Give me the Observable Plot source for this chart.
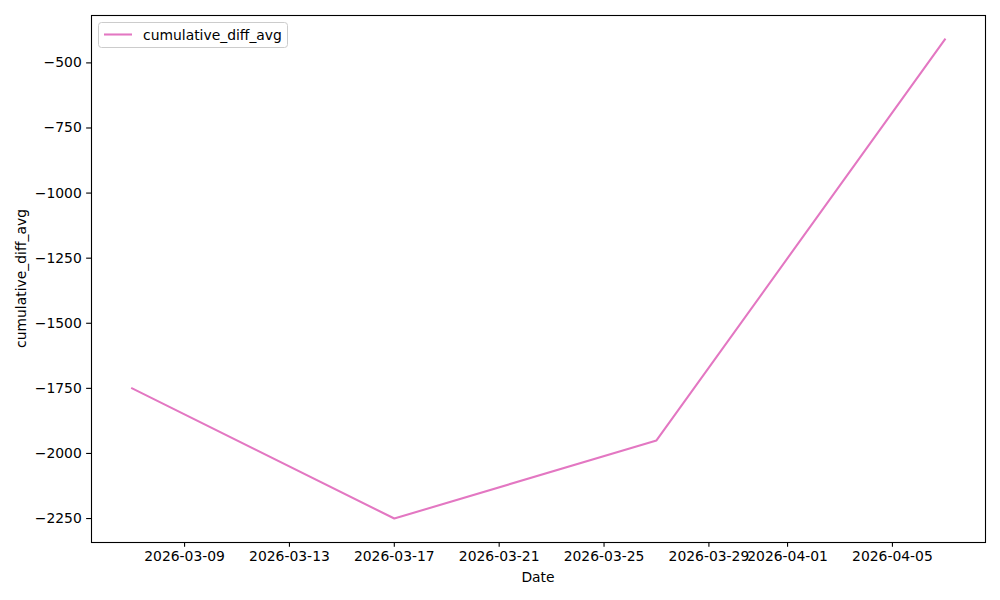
<!DOCTYPE html>
<html>
<head>
<meta charset="utf-8">
<script src="https://cdn.jsdelivr.net/npm/d3@7"></script>
<script src="https://cdn.jsdelivr.net/npm/@observablehq/plot@0.6"></script>
<style>
  html, body { margin: 0; padding: 0; background: #fff; }
  #chart { width: 1000px; height: 600px; }
  svg { font-family: "DejaVu Sans", sans-serif; }
</style>
</head>
<body>
<div id="chart"></div>
<script>
const dates = ["2026-03-07", "2026-03-17", "2026-03-27", "2026-04-07"];
const cumulativeDiffAvg = [-1750, -2250, -1950, -410];
const xTickLabels = ["2026-03-09", "2026-03-13", "2026-03-17", "2026-03-21", "2026-03-25", "2026-03-29", "2026-04-01", "2026-04-05"];
const yTicks = [-2250, -2000, -1750, -1500, -1250, -1000, -750, -500];
const seriesName = "cumulative_diff_avg";
const xTitle = "Date";
const yTitle = "cumulative_diff_avg";

const data = dates.map((d, i) => ({date: new Date(d + "T00:00:00Z"), value: cumulativeDiffAvg[i]}));
const t0 = data[0].date.getTime(), t1 = data[data.length - 1].date.getTime();
const xPad = (t1 - t0) * 0.05;
const yMin = d3.min(cumulativeDiffAvg), yMax = d3.max(cumulativeDiffAvg);
const yPad = (yMax - yMin) * 0.05;

const W = 1000, H = 600, mL = 91, mR = 15, mT = 15, mB = 58;
const fs = 13.9;
const color = "#e377c2";

const plot = Plot.plot({
  width: W, height: H,
  marginLeft: mL, marginRight: mR, marginTop: mT, marginBottom: mB,
  style: {fontFamily: "DejaVu Sans, sans-serif", fontSize: fs + "px", background: "#fff", color: "#000"},
  x: {type: "utc", domain: [new Date(t0 - xPad), new Date(t1 + xPad)]},
  y: {domain: [yMin - yPad, yMax + yPad]},
  marks: [
    Plot.axisX({
      ticks: xTickLabels.map(d => new Date(d + "T00:00:00Z")),
      tickFormat: d => d3.utcFormat("%Y-%m-%d")(d),
      tickSize: 4.86, tickPadding: 4.2, strokeWidth: 1.1,
      label: null, fontSize: fs
    }),
    Plot.axisY({
      ticks: yTicks,
      tickFormat: d => String(d).replace("-", "\u2212"),
      tickSize: 4.86, tickPadding: 4.86, strokeWidth: 1.1,
      label: null, fontSize: fs
    }),
    Plot.line(data, {x: "date", y: "value", stroke: color, strokeWidth: 2.08, strokeLinejoin: "round", strokeLinecap: "square"}),
    Plot.frame({stroke: "#000", strokeWidth: 1.1})
  ]
});

const svg = d3.select(plot);
// axis titles
svg.append("text")
  .attr("x", mL + (W - mL - mR) / 2).attr("y", 582)
  .attr("text-anchor", "middle").attr("font-size", fs).attr("fill", "#000")
  .text(xTitle);
svg.append("text")
  .attr("transform", `translate(26,${mT + (H - mT - mB) / 2}) rotate(-90)`)
  .attr("text-anchor", "middle").attr("font-size", fs).attr("fill", "#000")
  .text(yTitle);

// legend
const lg = svg.append("g").attr("text-anchor", "start");
lg.append("rect").attr("x", 98.5).attr("y", 22.5).attr("width", 189).attr("height", 25)
  .attr("rx", 3).attr("fill", "#fff").attr("fill-opacity", 0.8).attr("stroke", "#ccc").attr("stroke-width", 1);
lg.append("line").attr("x1", 104).attr("x2", 132).attr("y1", 34.5).attr("y2", 34.5)
  .attr("stroke", color).attr("stroke-width", 2.08);
lg.append("text").attr("x", 143).attr("y", 39.5).attr("text-anchor", "start")
  .attr("font-size", fs).attr("fill", "#000").text(seriesName);

document.getElementById("chart").appendChild(plot);
</script>
</body>
</html>
